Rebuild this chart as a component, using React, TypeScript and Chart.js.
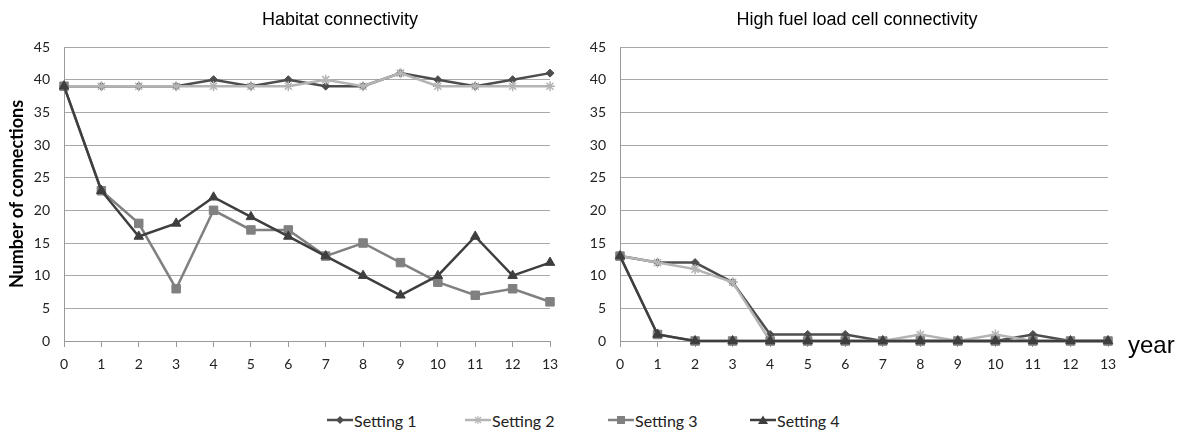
import React, { useEffect, useRef } from "react";
import { Chart, registerables } from "chart.js";

Chart.register(...registerables);

const years = ["0", "1", "2", "3", "4", "5", "6", "7", "8", "9", "10", "11", "12", "13"];

const habitatS1 = [39, 39, 39, 39, 40, 39, 40, 39, 39, 41, 40, 39, 40, 41];
const habitatS2 = [39, 39, 39, 39, 39, 39, 39, 40, 39, 41, 39, 39, 39, 39];
const habitatS3 = [39, 23, 18, 8, 20, 17, 17, 13, 15, 12, 9, 7, 8, 6];
const habitatS4 = [39, 23, 16, 18, 22, 19, 16, 13, 10, 7, 10, 16, 10, 12];

const fuelS1 = [13, 12, 12, 9, 1, 1, 1, 0, 0, 0, 0, 1, 0, 0];
const fuelS2 = [13, 12, 11, 9, 0, 0, 0, 0, 1, 0, 1, 0, 0, 0];
const fuelS3 = [13, 1, 0, 0, 0, 0, 0, 0, 0, 0, 0, 0, 0, 0];
const fuelS4 = [13, 1, 0, 0, 0, 0, 0, 0, 0, 0, 0, 0, 0, 0];

const seriesNames = ["Setting 1", "Setting 2", "Setting 3", "Setting 4"];
const seriesColors = ["#4d4d4d", "#b4b4b4", "#808080", "#3e3e3e"];
const seriesStyles = ["rectRot", "star", "rect", "triangle"];
const seriesRadii = [4, 5, 6, 5.5];

const yMin = 0;
const yMax = 45;
const yStep = 5;

const chartTitles = ["Habitat connectivity", "High fuel load cell connectivity"];
const yAxisTitle = "Number of connections";
const xAxisTitle = "year";

type PanelProps = {
  series: number[][];
  yWidth: number;
  padRight: number;
  showYTitle: boolean;
  width: number;
  left: number;
};

function Panel({ series, yWidth, padRight, showYTitle, width, left }: PanelProps) {
  const ref = useRef<HTMLCanvasElement>(null);
  useEffect(() => {
    if (!ref.current) return;
    const datasets = series.map((vals, i) => ({
      label: seriesNames[i],
      data: vals,
      borderColor: seriesColors[i],
      backgroundColor: seriesColors[i],
      pointBackgroundColor: seriesColors[i],
      pointBorderColor: seriesColors[i],
      pointStyle: seriesStyles[i] as any,
      pointRadius: seriesRadii[i],
      pointBorderWidth: i === 1 ? 1.5 : 1,
      borderWidth: 2.5,
      tension: 0,
      clip: false as any,
      order: 4 - i,
    }));
    const chart = new Chart(ref.current, {
      type: "line",
      data: { labels: years, datasets },
      options: {
        animation: false,
        responsive: false,
        maintainAspectRatio: false,
        layout: { padding: { top: 47, right: padRight, left: 0, bottom: 0 } },
        plugins: {
          legend: { display: false },
          title: { display: false },
          tooltip: { enabled: false },
        },
        scales: {
          x: {
            type: "category",
            offset: false,
            grid: {
              display: true,
              drawOnChartArea: false,
              drawTicks: true,
              tickLength: 6,
              color: "#9a9a9a",
            },
            border: { display: true, color: "#9a9a9a" },
            ticks: {
              color: "#222",
              font: { family: "Lato", size: 14 },
              padding: 9,
              maxRotation: 0,
              autoSkip: false,
            },
            afterFit: (s: any) => {
              s.height = 44;
            },
          },
          y: {
            min: yMin,
            max: yMax,
            grid: { color: "#a8a8a8", drawTicks: false, lineWidth: 1 },
            border: { display: true, color: "#9a9a9a" },
            ticks: {
              stepSize: yStep,
              color: "#222",
              font: { family: "Lato", size: 14 },
              padding: 14,
            },
            title: {
              display: showYTitle,
              text: yAxisTitle,
              color: "#000",
              font: { family: "Lato", size: 18, weight: "bold" },
              padding: { top: 6, bottom: 0 },
            },
            afterFit: (s: any) => {
              s.width = yWidth;
            },
          },
        },
      },
    });
    return () => chart.destroy();
  }, []);
  return (
    <canvas
      ref={ref}
      width={width}
      height={385}
      style={{ position: "absolute", left, top: 0, width, height: 385 }}
    />
  );
}

function LegendMarker({ i }: { i: number }) {
  const c = seriesColors[i];
  const cx = 13;
  const cy = 6;
  let marker: React.ReactNode = null;
  if (i === 0) marker = <polygon points={`${cx},${cy - 4} ${cx + 4},${cy} ${cx},${cy + 4} ${cx - 4},${cy}`} fill={c} />;
  if (i === 1)
    marker = (
      <g stroke={c} strokeWidth={1.2}>
        <line x1={cx - 4} y1={cy} x2={cx + 4} y2={cy} />
        <line x1={cx} y1={cy - 4} x2={cx} y2={cy + 4} />
        <line x1={cx - 3} y1={cy - 3} x2={cx + 3} y2={cy + 3} />
        <line x1={cx - 3} y1={cy + 3} x2={cx + 3} y2={cy - 3} />
      </g>
    );
  if (i === 2) marker = <rect x={cx - 4} y={cy - 4} width={8} height={8} fill={c} />;
  if (i === 3) marker = <polygon points={`${cx},${cy - 4.5} ${cx + 5},${cy + 4} ${cx - 5},${cy + 4}`} fill={c} />;
  return (
    <svg width={26} height={12} style={{ display: "inline-block", verticalAlign: "middle" }}>
      <line x1={0} y1={cy} x2={26} y2={cy} stroke={c} strokeWidth={2.5} />
      {marker}
    </svg>
  );
}

const legendLefts = [327, 465, 608, 750];

export default function App() {
  return (
    <div
      style={{
        position: "absolute",
        left: 0,
        top: 0,
        width: 1186,
        height: 436,
        background: "#fff",
        overflow: "hidden",
      }}
    >
      <Panel series={[habitatS1, habitatS2, habitatS3, habitatS4]} yWidth={64} padRight={40} showYTitle={true} width={590} left={0} />
      <Panel series={[fuelS1, fuelS2, fuelS3, fuelS4]} yWidth={30} padRight={78} showYTitle={false} width={596} left={590} />
      <div
        style={{
          position: "absolute",
          left: 240,
          width: 200,
          top: 8,
          textAlign: "center",
          fontFamily: "'Liberation Sans', Arial, sans-serif",
          fontSize: 18,
          color: "#000",
          whiteSpace: "nowrap",
          lineHeight: "22px",
        }}
      >
        {chartTitles[0]}
      </div>
      <div
        style={{
          position: "absolute",
          left: 707,
          width: 300,
          top: 8,
          textAlign: "center",
          fontFamily: "'Liberation Sans', Arial, sans-serif",
          fontSize: 18,
          color: "#000",
          whiteSpace: "nowrap",
          lineHeight: "22px",
        }}
      >
        {chartTitles[1]}
      </div>
      <div
        style={{
          position: "absolute",
          left: 1128,
          top: 331,
          fontFamily: "'Liberation Sans', Arial, sans-serif",
          fontSize: 24,
          lineHeight: "28px",
          color: "#000",
        }}
      >
        {xAxisTitle}
      </div>
      {seriesNames.map((name, i) => (
        <div
          key={name}
          style={{
            position: "absolute",
            left: legendLefts[i],
            top: 410,
            height: 20,
            display: "flex",
            alignItems: "center",
            fontFamily: "Lato, sans-serif",
            fontSize: 16,
            color: "#222",
            whiteSpace: "nowrap",
          }}
        >
          <LegendMarker i={i} />
          <span style={{ marginLeft: 1 }}>{name}</span>
        </div>
      ))}
    </div>
  );
}
